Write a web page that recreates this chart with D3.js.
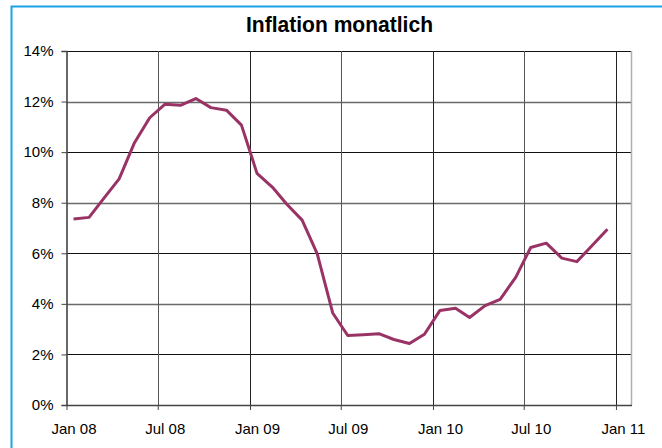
<!DOCTYPE html>
<html>
<head>
<meta charset="utf-8">
<script src="https://cdn.jsdelivr.net/npm/d3@7"></script>
<style>
  html, body { margin: 0; padding: 0; background: #fff; }
  svg { display: block; }
  text { font-family: "Liberation Sans", Arial, sans-serif; fill: #000; }
</style>
</head>
<body>
<svg id="chart" width="662" height="448"></svg>
<script>
// Monthly inflation rate, Jan 2008 – Dec 2010 (percent)
const months = [
  "2008-01","2008-02","2008-03","2008-04","2008-05","2008-06",
  "2008-07","2008-08","2008-09","2008-10","2008-11","2008-12",
  "2009-01","2009-02","2009-03","2009-04","2009-05","2009-06",
  "2009-07","2009-08","2009-09","2009-10","2009-11","2009-12",
  "2010-01","2010-02","2010-03","2010-04","2010-05","2010-06",
  "2010-07","2010-08","2010-09","2010-10","2010-11","2010-12"
];
const inflation = [
  7.36, 7.42, 8.16, 8.94, 10.35, 11.36,
  11.89, 11.85, 12.12, 11.76, 11.66, 11.07,
  9.16, 8.61, 7.95, 7.31, 5.99, 3.64,
  2.75, 2.78, 2.82, 2.59, 2.43, 2.80,
  3.74, 3.83, 3.46, 3.93, 4.18, 5.05,
  6.23, 6.40, 5.81, 5.67, 6.32, 6.95
];
const yTicks = [0, 2, 4, 6, 8, 10, 12, 14];
const xTickLabels = ["Jan 08", "Jul 08", "Jan 09", "Jul 09", "Jan 10", "Jul 10", "Jan 11"];
const xTickMonths = ["2008-01", "2008-07", "2009-01", "2009-07", "2010-01", "2010-07", "2011-01"];
const title = "Inflation monatlich";

const parseMonth = d3.timeParse("%Y-%m");
const midMonth = m => d3.timeDay.offset(parseMonth(m), 14);

const svg = d3.select("#chart");

// Outer frame
svg.append("path")
  .attr("d", "M11.5,700 L11.5,6.5 L700,6.5")
  .attr("fill", "none")
  .attr("stroke", "#1aa3e8")
  .attr("stroke-width", 2);

const plot = { left: 66.5, right: 631.5, top: 51, bottom: 405 };

const x = d3.scaleTime()
  .domain([new Date(2008, 0, 1), new Date(2011, 1, 1)])
  .range([plot.left, plot.right]);
const y = d3.scaleLinear().domain([0, 14]).range([plot.bottom, plot.top]);

// Horizontal grid
svg.append("g").selectAll("line")
  .data(yTicks.filter(v => v > 0))
  .join("line")
  .attr("x1", plot.left).attr("x2", plot.right)
  .attr("y1", d => Math.round(y(d)) + 0.5).attr("y2", d => Math.round(y(d)) + 0.5)
  .attr("stroke", d => (d % 4 === 0) ? "#6a6a6a" : "#111")
  .attr("stroke-width", d => (d % 4 === 0) ? 1.4 : 1);

// Vertical grid
const tickDates = xTickMonths.map(parseMonth);
svg.append("g").selectAll("line")
  .data(tickDates.slice(1))
  .join("line")
  .attr("x1", d => Math.round(x(d)) + 0.5).attr("x2", d => Math.round(x(d)) + 0.5)
  .attr("y1", plot.top).attr("y2", plot.bottom)
  .attr("stroke", (d, i) => i % 2 === 0 ? "#555" : "#222")
  .attr("stroke-width", 1);

// Right border of the plot area
svg.append("line")
  .attr("x1", plot.right).attr("x2", plot.right)
  .attr("y1", plot.top).attr("y2", plot.bottom)
  .attr("stroke", "#b0b0b0").attr("stroke-width", 1.5);

// Y axis
const yAxis = svg.append("g")
  .attr("transform", `translate(${plot.left},0)`)
  .call(d3.axisLeft(y).tickValues(yTicks).tickFormat(d => d + "%").tickSize(5).tickPadding(8));
yAxis.select(".domain").attr("stroke", "#444").attr("stroke-width", 1.6);
yAxis.selectAll(".tick line").attr("stroke", "#444");
yAxis.selectAll("text").attr("font-size", 15).attr("font-family", "Liberation Sans, Arial, sans-serif");

// X axis: tick marks at month starts
const xAxis = svg.append("g")
  .attr("transform", `translate(0,${plot.bottom})`)
  .call(d3.axisBottom(x).tickValues(tickDates).tickFormat("").tickSize(5).tickSizeOuter(0));
xAxis.select(".domain").attr("stroke", "#444").attr("stroke-width", 1.6);
xAxis.selectAll(".tick line").attr("stroke", "#444");

// X axis labels centred on mid-month
const labelAxis = svg.append("g")
  .attr("transform", `translate(0,${plot.bottom})`)
  .call(d3.axisBottom(x)
    .tickValues(xTickMonths.map(midMonth))
    .tickFormat((d, i) => xTickLabels[i])
    .tickSize(0).tickPadding(18));
labelAxis.select(".domain").remove();
labelAxis.selectAll("text").attr("font-size", 15).attr("font-family", "Liberation Sans, Arial, sans-serif");

// Inflation line
const line = d3.line()
  .x((d, i) => x(midMonth(months[i])))
  .y(d => y(d));
svg.append("path")
  .datum(inflation)
  .attr("d", line)
  .attr("fill", "none")
  .attr("stroke", "#993366")
  .attr("stroke-width", 3)
  .attr("stroke-linejoin", "round");

// Title
svg.append("text")
  .attr("x", 339.5).attr("y", 31.5)
  .attr("text-anchor", "middle")
  .attr("font-size", 22)
  .attr("font-weight", "bold")
  .attr("textLength", 187)
  .attr("lengthAdjust", "spacingAndGlyphs")
  .text(title);
</script>
</body>
</html>
